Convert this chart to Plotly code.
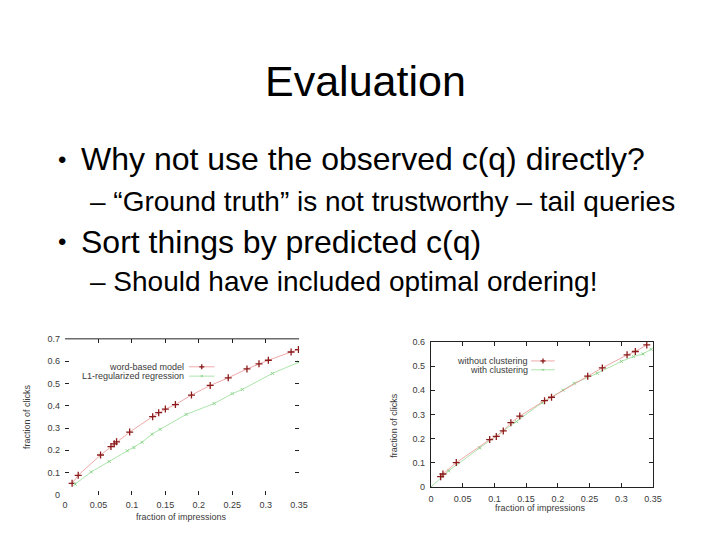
import plotly.graph_objects as go

W, H = 720, 540

# ---------------- data ----------------
title_text = "Evaluation"
bullets = [
    ("•", "Why not use the observed c(q) directly?", 0),
    ("–", "“Ground truth” is not trustworthy – tail queries", 1),
    ("•", "Sort things by predicted c(q)", 0),
    ("–", "Should have included optimal ordering!", 1),
]

# left chart
left_word_x = [0.0105, 0.0196, 0.053, 0.0686, 0.0735, 0.077, 0.0966, 0.131, 0.140, 0.150,
               0.165, 0.189, 0.217, 0.244, 0.272, 0.290, 0.304, 0.338, 0.349]
left_word_y = [0.052, 0.088, 0.179, 0.217, 0.229, 0.238, 0.282, 0.351, 0.369, 0.385,
               0.405, 0.448, 0.491, 0.525, 0.565, 0.588, 0.604, 0.641, 0.652]
left_l1_x = [0.015, 0.039, 0.066, 0.093, 0.103, 0.115, 0.130, 0.142, 0.181, 0.223,
             0.250, 0.265, 0.310, 0.350]
left_l1_y = [0.048, 0.103, 0.150, 0.198, 0.212, 0.236, 0.272, 0.294, 0.361, 0.410,
             0.454, 0.473, 0.545, 0.596]

# right chart
right_noclu_x = [0.0154, 0.019, 0.040, 0.0926, 0.103, 0.114, 0.126, 0.140, 0.179, 0.190,
                 0.247, 0.270, 0.309, 0.322, 0.340]
right_noclu_y = [0.043, 0.054, 0.101, 0.196, 0.209, 0.232, 0.266, 0.293, 0.357, 0.371,
                 0.458, 0.492, 0.546, 0.560, 0.587]
right_clu_x = [0.0, 0.028, 0.077, 0.135, 0.175, 0.208, 0.226, 0.262, 0.300, 0.319, 0.334, 0.347]
right_clu_y = [0.0, 0.067, 0.162, 0.270, 0.348, 0.400, 0.429, 0.470, 0.519, 0.539, 0.550, 0.569]

x_ticks = [0, 0.05, 0.1, 0.15, 0.2, 0.25, 0.3, 0.35]
x_tick_text = ["0", "0.05", "0.1", "0.15", "0.2", "0.25", "0.3", "0.35"]
left_y_ticks = [0, 0.1, 0.2, 0.3, 0.4, 0.5, 0.6, 0.7]
left_y_text = ["0", "0.1", "0.2", "0.3", "0.4", "0.5", "0.6", "0.7"]
right_y_ticks = [0, 0.1, 0.2, 0.3, 0.4, 0.5, 0.6]
right_y_text = ["0", "0.1", "0.2", "0.3", "0.4", "0.5", "0.6"]

legend_left = ["word-based model", "L1-regularized regression"]
legend_right = ["without clustering", "with clustering"]
x_title = "fraction of impressions"
y_title = "fraction of clicks"

# ---------------- style ----------------
FONT = "Liberation Sans, Arial, sans-serif"
RED_LINE = "rgba(232,140,140,0.75)"
RED_MK = "#8b1a1a"
GRN_LINE = "rgba(150,222,150,0.8)"
GRN_MK = "#8fd68f"
TXT_GRAY = "#3a3a3a"
TICK_FONT = dict(family=FONT, size=9, color=TXT_GRAY)
AX_FONT = dict(family=FONT, size=9, color=TXT_GRAY)


def px(x):
    return x / W


def py(y):
    return 1 - y / H


fig = go.Figure()

red_marker = dict(symbol="cross-thin", size=5, line=dict(color=RED_MK, width=1.3))
grn_marker = dict(symbol="x-thin", size=3, line=dict(color=GRN_MK, width=1))

# left chart traces
fig.add_trace(go.Scatter(x=left_word_x, y=left_word_y, mode="lines+markers",
                         line=dict(color=RED_LINE, width=1), marker=red_marker,
                         xaxis="x", yaxis="y", showlegend=False))
fig.add_trace(go.Scatter(x=left_l1_x, y=left_l1_y, mode="lines+markers",
                         line=dict(color=GRN_LINE, width=1), marker=grn_marker,
                         xaxis="x", yaxis="y", showlegend=False))
# right chart traces
fig.add_trace(go.Scatter(x=right_clu_x, y=right_clu_y, mode="lines+markers",
                         line=dict(color=GRN_LINE, width=1), marker=grn_marker,
                         xaxis="x2", yaxis="y2", showlegend=False))
fig.add_trace(go.Scatter(x=right_noclu_x, y=right_noclu_y, mode="lines+markers",
                         line=dict(color=RED_LINE, width=1), marker=red_marker,
                         xaxis="x2", yaxis="y2", showlegend=False))

common_axis = dict(ticks="inside", ticklen=4, tickcolor="#222", tickwidth=1,
                   tickfont=TICK_FONT, showgrid=False, zeroline=False,
                   fixedrange=True)

fig.update_layout(
    width=W, height=H,
    margin=dict(l=0, r=0, t=0, b=0),
    paper_bgcolor="white", plot_bgcolor="white",
    xaxis=dict(domain=[px(55), px(293)], range=[0, 0.35], tickvals=x_ticks, ticktext=x_tick_text,
               showline=False, mirror="ticks", anchor="y", ticklabelstandoff=3, **common_axis),
    yaxis=dict(domain=[py(491), py(332)], range=[0, 0.7], tickvals=left_y_ticks, ticktext=left_y_text,
               showline=False, mirror="ticks", anchor="x", ticklabelstandoff=4, **common_axis),
    xaxis2=dict(domain=[px(427), px(653)], range=[0, 0.35], tickvals=x_ticks, ticktext=x_tick_text,
                showline=True, linecolor="#222", linewidth=1, mirror="ticks", anchor="y2",
                ticklabelstandoff=3, **common_axis),
    yaxis2=dict(domain=[py(483), py(335)], range=[0, 0.6], tickvals=right_y_ticks, ticktext=right_y_text,
                showline=True, linecolor="#222", linewidth=1, mirror="ticks", anchor="x2",
                ticklabelstandoff=3, **common_axis),
)

annotations = []
shapes = []

# title
annotations.append(dict(text=title_text, x=px(360), y=py(69), xref="paper", yref="paper",
                        xanchor="center", yanchor="middle", showarrow=False,
                        font=dict(family=FONT, size=43, color="black")))

# bullets
bullet_rows = [149, 192, 233, 274]
for (sym, txt, level), yc in zip(bullets, bullet_rows):
    if level == 0:
        annotations.append(dict(text=sym, x=px(52), y=py(yc), xref="paper", yref="paper",
                                xanchor="center", yanchor="middle", showarrow=False,
                                font=dict(family=FONT, size=24, color="black")))
        annotations.append(dict(text=txt, x=px(69), y=py(yc), xref="paper", yref="paper",
                                xanchor="left", yanchor="middle", showarrow=False,
                                font=dict(family=FONT, size=32, color="black")))
    else:
        annotations.append(dict(text=sym + " " + txt, x=px(78), y=py(yc), xref="paper", yref="paper",
                                xanchor="left", yanchor="middle", showarrow=False,
                                font=dict(family=FONT, size=28, color="black")))

# left chart top border
shapes.append(dict(type="line", xref="x domain", yref="y domain", x0=0, x1=1, y0=1, y1=1,
                   line=dict(color="#222", width=1)))

# axis titles
annotations.append(dict(text=y_title, x=px(17), y=py(411), xref="paper", yref="paper",
                        textangle=-90, showarrow=False, font=AX_FONT,
                        xanchor="center", yanchor="middle"))
annotations.append(dict(text=x_title, x=px(173), y=py(513), xref="paper", yref="paper",
                        showarrow=False, font=AX_FONT, xanchor="center", yanchor="middle"))
annotations.append(dict(text=y_title, x=px(390), y=py(420), xref="paper", yref="paper",
                        textangle=-90, showarrow=False, font=AX_FONT,
                        xanchor="center", yanchor="middle"))
annotations.append(dict(text=x_title, x=px(538), y=py(504), xref="paper", yref="paper",
                        showarrow=False, font=AX_FONT, xanchor="center", yanchor="middle"))


def seg(x0, y0, x1, y1, color, width=1):
    shapes.append(dict(type="line", xref="paper", yref="paper", x0=px(x0), x1=px(x1),
                       y0=py(y0), y1=py(y1), line=dict(color=color, width=width)))


# gnuplot-style legends (text then sample)
def legend_block(labels, x_text_right, ys, x0, x1):
    for i, (lab, yy) in enumerate(zip(labels, ys)):
        annotations.append(dict(text=lab, x=px(x_text_right), y=py(yy), xref="paper", yref="paper",
                                xanchor="right", yanchor="middle", showarrow=False, font=AX_FONT,
                                borderpad=0))
        cx = (x0 + x1) / 2
        if i == 0:
            seg(x0, yy, x1, yy, RED_LINE)
            seg(cx - 2.5, yy, cx + 2.5, yy, RED_MK, 1.3)
            seg(cx, yy - 2.5, cx, yy + 2.5, RED_MK, 1.3)
        else:
            seg(x0, yy, x1, yy, GRN_LINE)
            seg(cx - 1, yy - 1, cx + 1, yy + 1, GRN_MK, 1)
            seg(cx - 1, yy + 1, cx + 1, yy - 1, GRN_MK, 1)


legend_block(legend_left, 177, [360.5, 370], 181, 207)
legend_block(legend_right, 527, [354.5, 363.5], 529, 553)

fig.update_layout(annotations=annotations, shapes=shapes)

fig.write_html("out.html")
